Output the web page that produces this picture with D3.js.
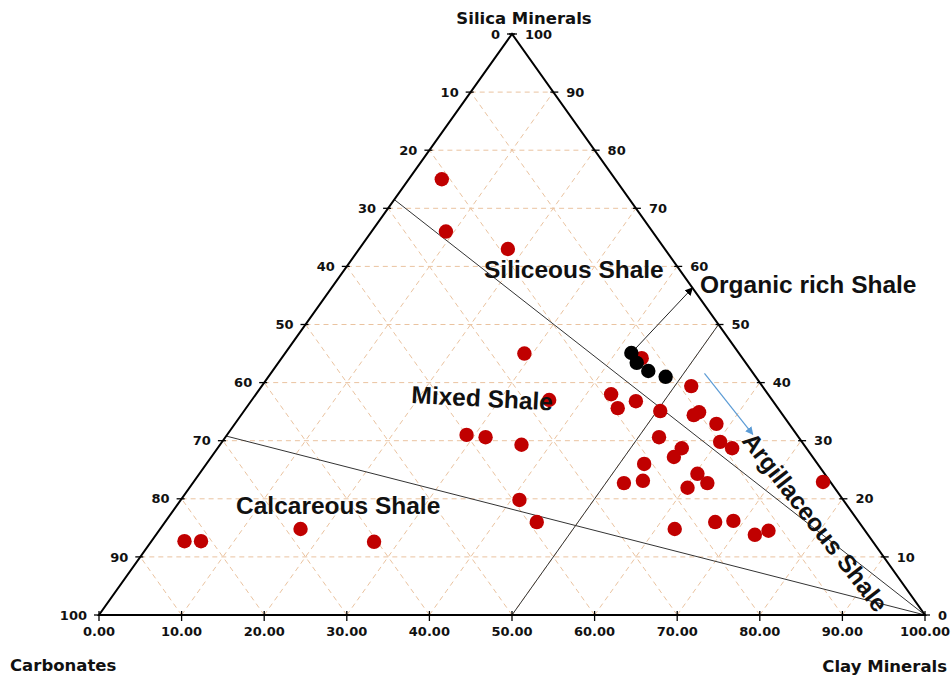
<!DOCTYPE html>
<html>
<head>
<meta charset="utf-8">
<script src="https://cdn.jsdelivr.net/npm/d3@7"></script>
<style>
  body { margin: 0; background: #fff; }
</style>
</head>
<body>
<div id="chart"></div>
<script>
const redClay   = [4, 9, 18, 29, 36, 29, 31.5, 36.5, 41, 45, 4, 6, 17, 27,
                   43.6, 43, 45, 46.6, 50.4, 52, 54.8, 55.2, 58.3, 60.3, 62.3, 52.5, 56.2, 56, 53,
                   52.2, 54.3, 60.3, 62.3, 60.3, 62.3, 66.6, 68.7, 72.5, 73.8, 76.2];
const redSilica = [75, 66, 63, 45, 37, 31, 30.6, 29.3, 19.8, 16, 12.7, 12.7, 14.8, 12.6,
                   44.2, 38, 35.6, 36.8, 35.1, 39.4, 34.4, 34.9, 32.9, 29.8, 28.7, 30.6, 28.7, 27.2, 26,
                   22.7, 23.1, 24.3, 22.7, 21.9, 14.8, 16, 16.2, 13.8, 14.5, 22.9];

const organicClay   = [41.9, 43.4, 45.5, 48.1];
const organicSilica = [45.1, 43.4, 42.0, 41.0];

const tickValues = [0, 10, 20, 30, 40, 50, 60, 70, 80, 90, 100];
const gridValues = [10, 20, 30, 40, 50, 60, 70, 80, 90];

// classification lines, [clay, silica] end points
const boundaryLines = [
    [[0, 71.5], [100, 0]],
    [[0, 30.8], [100, 0]],
    [[50, 0], [50, 50]]
];

const width = 952;
const height = 678;
const svg = d3.select('#chart')
    .append('svg')
        .attr('width', width)
        .attr('height', height);

const xClay = d3.scaleLinear().domain([0, 100]).range([99, 925]);
const xShift = d3.scaleLinear().domain([0, 100]).range([0, 413]);
const ySilica = d3.scaleLinear().domain([0, 100]).range([615, 34]);

function pos(clay, silica) {
    return [xClay(clay) + xShift(silica), ySilica(silica)];
}

const defs = svg.append('defs');
defs.append('marker')
    .attr('id', 'headBlack')
    .attr('viewBox', '0 0 10 10')
    .attr('refX', 9).attr('refY', 5)
    .attr('markerWidth', 8).attr('markerHeight', 8)
    .attr('markerUnits', 'userSpaceOnUse')
    .attr('orient', 'auto')
    .append('path').attr('d', 'M0,0 L10,5 L0,10 z').attr('fill', '#000');
defs.append('marker')
    .attr('id', 'headBlue')
    .attr('viewBox', '0 0 10 10')
    .attr('refX', 9).attr('refY', 5)
    .attr('markerWidth', 8).attr('markerHeight', 8)
    .attr('markerUnits', 'userSpaceOnUse')
    .attr('orient', 'auto')
    .append('path').attr('d', 'M0,0 L10,5 L0,10 z').attr('fill', '#5b9bd5');

// dashed grid
const grid = svg.append('g')
    .attr('stroke', '#eac3a0')
    .attr('stroke-width', 1)
    .attr('stroke-dasharray', '5,4')
    .attr('fill', 'none');

gridValues.forEach(t => {
    [[pos(0, t), pos(100 - t, t)],
     [pos(t, 0), pos(t, 100 - t)],
     [pos(100 - t, 0), pos(0, 100 - t)]].forEach(seg => {
        grid.append('line')
            .attr('x1', seg[0][0]).attr('y1', seg[0][1])
            .attr('x2', seg[1][0]).attr('y2', seg[1][1]);
    });
});

// boundary lines
svg.append('g')
    .selectAll('line')
    .data(boundaryLines)
    .join('line')
        .attr('x1', d => pos(...d[0])[0])
        .attr('y1', d => pos(...d[0])[1])
        .attr('x2', d => pos(...d[1])[0])
        .attr('y2', d => pos(...d[1])[1])
        .attr('stroke', '#333')
        .attr('stroke-width', 1);

// triangle
const corners = [pos(0, 0), pos(100, 0), pos(0, 100)];
svg.append('path')
    .attr('d', 'M' + corners.join('L') + 'Z')
    .attr('fill', 'none')
    .attr('stroke', '#000')
    .attr('stroke-width', 2);

// ticks and tick labels
const tickFont = 'DejaVu Sans, Verdana, sans-serif';
const axes = svg.append('g')
    .attr('font-family', tickFont)
    .attr('font-weight', 'bold')
    .attr('font-size', '13px')
    .attr('fill', '#111');

tickValues.forEach(v => {
    const l = pos(0, v);
    axes.append('line')
        .attr('x1', l[0] - 5).attr('x2', l[0] + 3)
        .attr('y1', l[1]).attr('y2', l[1])
        .attr('stroke', '#000').attr('stroke-width', 1.3);
    axes.append('text')
        .attr('x', l[0] - 12).attr('y', l[1])
        .attr('dy', '0.36em')
        .attr('text-anchor', 'end')
        .text(100 - v);

    const r = pos(100 - v, v);
    axes.append('line')
        .attr('x1', r[0] - 3).attr('x2', r[0] + 5)
        .attr('y1', r[1]).attr('y2', r[1])
        .attr('stroke', '#000').attr('stroke-width', 1.3);
    axes.append('text')
        .attr('x', r[0] + 13).attr('y', r[1])
        .attr('dy', '0.36em')
        .attr('text-anchor', 'start')
        .text(v);

    const b = pos(v, 0);
    axes.append('line')
        .attr('x1', b[0]).attr('x2', b[0])
        .attr('y1', b[1] - 4).attr('y2', b[1] + 6)
        .attr('stroke', '#000').attr('stroke-width', 1.3);
    axes.append('text')
        .attr('x', b[0]).attr('y', b[1] + 21)
        .attr('text-anchor', 'middle')
        .text(d3.format('.2f')(v));
});

// arrows
const organicStart = pos(organicClay[0], organicSilica[0]);
const organicEnd = pos(43.7, 56.3);
svg.append('line')
    .attr('x1', organicStart[0]).attr('y1', organicStart[1])
    .attr('x2', organicEnd[0]).attr('y2', organicEnd[1])
    .attr('stroke', '#222')
    .attr('stroke-width', 1)
    .attr('marker-end', 'url(#headBlack)');

const blueStart = pos(52.5, 41.6);
const blueEnd = pos(63.6, 31.1);
svg.append('line')
    .attr('x1', blueStart[0]).attr('y1', blueStart[1])
    .attr('x2', blueEnd[0]).attr('y2', blueEnd[1])
    .attr('stroke', '#5b9bd5')
    .attr('stroke-width', 1.2)
    .attr('marker-end', 'url(#headBlue)');

// samples
svg.append('g')
    .selectAll('circle')
    .data(redClay)
    .join('circle')
        .attr('cx', (d, i) => pos(d, redSilica[i])[0])
        .attr('cy', (d, i) => pos(d, redSilica[i])[1])
        .attr('r', 7.2)
        .attr('fill', '#c00000');

svg.append('g')
    .selectAll('circle')
    .data(organicClay)
    .join('circle')
        .attr('cx', (d, i) => pos(d, organicSilica[i])[0])
        .attr('cy', (d, i) => pos(d, organicSilica[i])[1])
        .attr('r', 7.2)
        .attr('fill', '#000');

// corner titles
const titles = svg.append('g')
    .attr('font-family', tickFont)
    .attr('font-weight', 'bold')
    .attr('font-size', '16.5px')
    .attr('fill', '#111');
titles.append('text').attr('x', 524).attr('y', 24).attr('text-anchor', 'middle').text('Silica Minerals');
titles.append('text').attr('x', 10).attr('y', 671).text('Carbonates');
titles.append('text').attr('x', 947).attr('y', 672).attr('text-anchor', 'end').text('Clay Minerals');

// region labels
const regions = svg.append('g')
    .attr('font-family', 'Liberation Sans, Arial, sans-serif')
    .attr('font-weight', 'bold')
    .attr('font-size', '24.5px')
    .attr('fill', '#111');
regions.append('text').attr('x', 484).attr('y', 278).text('Siliceous Shale');
regions.append('text').attr('x', 700).attr('y', 293).text('Organic rich Shale');
regions.append('text').attr('transform', 'translate(411,403) rotate(3)').text('Mixed Shale');
regions.append('text').attr('x', 236).attr('y', 514).text('Calcareous Shale');
regions.append('text').attr('transform', 'translate(741,441) rotate(52)').text('Argillaceous Shale');
</script>
</body>
</html>
